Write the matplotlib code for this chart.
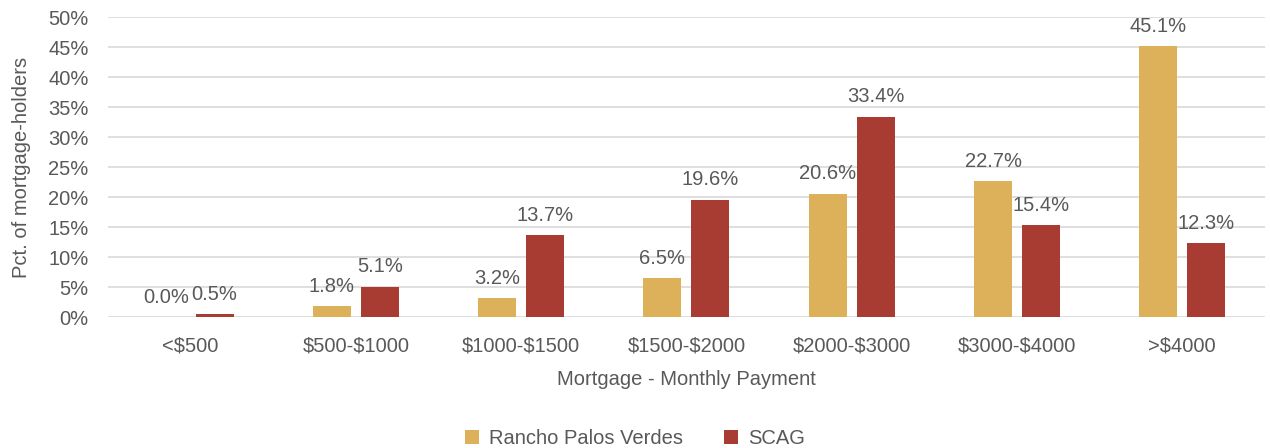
import matplotlib.pyplot as plt
import numpy as np

categories = ['<$500', '$500-$1000', '$1000-$1500', '$1500-$2000',
              '$2000-$3000', '$3000-$4000', '>$4000']
rancho = [0.0, 1.8, 3.2, 6.5, 20.6, 22.7, 45.1]
scag = [0.5, 5.1, 13.7, 19.6, 33.4, 15.4, 12.3]

gold = '#DDB05A'
red = '#A93C32'
txt = '#595959'

plt.rcParams['font.family'] = ['Liberation Sans', 'DejaVu Sans']
plt.rcParams['text.parse_math'] = False

fig = plt.figure(figsize=(12.7, 4.48), dpi=100)
ax = fig.add_axes([0.085, 0.292, 0.911, 0.67])

x = np.arange(len(categories))
w = 0.23
off = 0.145
b1 = ax.bar(x - off, rancho, w, color=gold, label='Rancho Palos Verdes', zorder=3)
b2 = ax.bar(x + off, scag, w, color=red, label='SCAG', zorder=3)

for bars in (b1, b2):
    for bar in bars:
        h = bar.get_height()
        ax.text(bar.get_x() + bar.get_width() / 2, h + 1.7, f'{h:.1f}%',
                ha='center', va='bottom', fontsize=14.5, color=txt)

ax.set_xlim(-0.5, len(categories) - 0.5)
ax.set_ylim(0, 50)
ax.set_yticks(range(0, 51, 5))
ax.set_yticklabels([f'{v}%' for v in range(0, 51, 5)])
ax.set_xticks(x)
ax.set_xticklabels(categories)
ax.tick_params(axis='both', length=0, labelsize=14.5, labelcolor=txt)
ax.tick_params(axis='x', pad=14)
ax.tick_params(axis='y', pad=14)
ax.grid(axis='y', color='#D9D9D9', linewidth=1.2, zorder=0)
for s in ax.spines.values():
    s.set_visible(False)

ax.set_xlabel('Mortgage - Monthly Payment', fontsize=14.5, color=txt, labelpad=10)
ax.set_ylabel('Pct. of mortgage-holders', fontsize=14.5, color=txt, labelpad=12)

fig.legend(loc='lower center', bbox_to_anchor=(0.5, -0.04), ncol=2, frameon=False,
           fontsize=14.5, labelcolor=txt, handlelength=0.7, handleheight=0.7,
           columnspacing=2.0, handletextpad=0.5)

fig.savefig('out.png', dpi=100)
